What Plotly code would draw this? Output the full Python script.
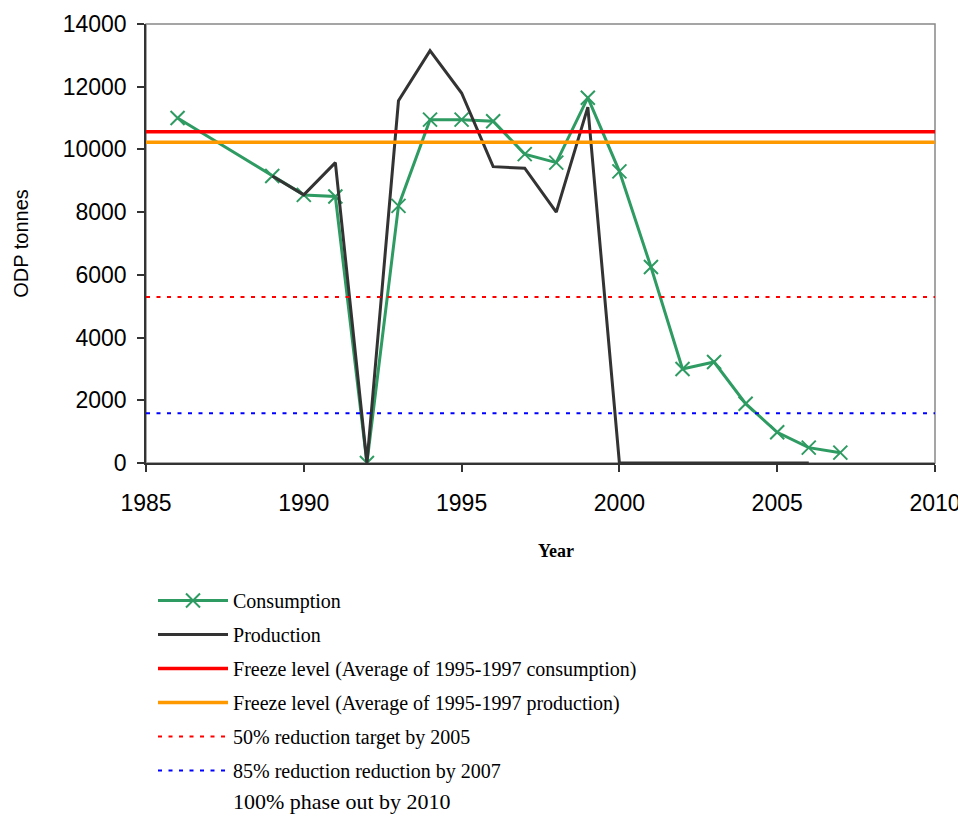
import plotly.graph_objects as go

years_cons = [1986, 1989, 1990, 1991, 1992, 1993, 1994, 1995, 1996, 1997, 1998, 1999,
              2000, 2001, 2002, 2003, 2004, 2005, 2006, 2007]
consumption = [11000, 9150, 8550, 8500, 0, 8200, 10950, 10950, 10900, 9850, 9580, 11650,
               9300, 6250, 3000, 3220, 1890, 980, 490, 330]

years_prod = [1989, 1990, 1991, 1992, 1993, 1994, 1995, 1996, 1997, 1998, 1999,
              2000, 2001, 2002, 2003, 2004, 2005, 2006]
production = [9150, 8550, 9580, 0, 11550, 13150, 11800, 9450, 9400, 8000, 11350,
              0, 0, 0, 0, 0, 0, 0]

line_span = [1985, 2010]
freeze_cons = 10560
freeze_prod = 10230
target_50 = 5290
target_85 = 1590

names = ["Consumption", "Production",
         "Freeze level (Average of 1995-1997 consumption)",
         "Freeze level (Average of 1995-1997 production)",
         "50% reduction target by 2005",
         "85% reduction reduction by 2007"]
note_text = "100% phase out by 2010"

GREEN = "#2E9B62"
DASH = "4px,6.5px"
fig = go.Figure()
fig.add_trace(go.Scatter(x=years_cons, y=consumption, name=names[0], legendgroup="a",
                         mode="lines+markers",
                         line=dict(color=GREEN, width=3),
                         marker=dict(symbol="x-thin", size=14,
                                     line=dict(color=GREEN, width=2))))
fig.add_trace(go.Scatter(x=years_prod, y=production, name=names[1], legendgroup="b",
                         mode="lines", line=dict(color="#333333", width=3)))
fig.add_trace(go.Scatter(x=line_span, y=[freeze_cons] * 2, name=names[2], legendgroup="c",
                         mode="lines", line=dict(color="#FF0000", width=3.5)))
fig.add_trace(go.Scatter(x=line_span, y=[freeze_prod] * 2, name=names[3], legendgroup="d",
                         mode="lines", line=dict(color="#FF9900", width=3.5)))
fig.add_trace(go.Scatter(x=line_span, y=[target_50] * 2, name=names[4], legendgroup="e",
                         mode="lines", line=dict(color="#FF0000", width=2, dash=DASH)))
fig.add_trace(go.Scatter(x=line_span, y=[target_85] * 2, name=names[5], legendgroup="f",
                         mode="lines", line=dict(color="#0000FF", width=2, dash=DASH)))

# page body has an 8px margin, so figure origin is at (8, 8) on screen
PH = 439  # plot height in px (screen y 24..463)


def py(pix):
    return (463 - pix) / PH


fig.update_layout(
    width=958, height=806,
    margin=dict(l=138, r=31, t=16, b=351, autoexpand=False),
    paper_bgcolor="white", plot_bgcolor="white",
    showlegend=True,
    legend=dict(x=7 / 788, y=py(581), xanchor="left", yanchor="top",
                orientation="v", itemwidth=70, tracegroupgap=5,
                font=dict(family="Liberation Serif", size=20, color="black"),
                bgcolor="rgba(0,0,0,0)", itemclick=False),
    font=dict(family="Liberation Sans", color="black"),
    shapes=[dict(type="rect", xref="paper", yref="paper", x0=0, x1=1, y0=0, y1=1,
                 line=dict(color="#888888", width=1.5), layer="below")],
    annotations=[
        dict(text="<b>Year</b>", xref="paper", yref="paper", x=(555 - 146) / 788, y=py(551),
             xanchor="center", yanchor="middle", showarrow=False,
             font=dict(family="Liberation Serif", size=18, color="black")),
        dict(text=note_text, xref="paper", yref="paper", x=(231 - 146) / 788,
             y=py(801), xanchor="left", yanchor="middle", showarrow=False,
             font=dict(family="Liberation Serif", size=22, color="black")),
    ],
)
fig.update_xaxes(range=[1985, 2010], dtick=5, tick0=1985, showgrid=False, zeroline=False,
                 showline=True, linecolor="#333333", linewidth=1.5,
                 ticks="outside", ticklen=7, tickcolor="#333333", tickwidth=1.5,
                 ticklabelstandoff=12, automargin=False,
                 tickfont=dict(family="Liberation Sans", size=23, color="black"))
fig.update_yaxes(range=[0, 14000], dtick=2000, tickformat="d", showgrid=False, zeroline=False,
                 showline=True, linecolor="#333333", linewidth=1.5,
                 ticks="outside", ticklen=7, tickcolor="#333333", tickwidth=1.5,
                 ticklabelstandoff=6, automargin=False,
                 tickfont=dict(family="Liberation Sans", size=23, color="black"),
                 title=dict(text="ODP tonnes", standoff=29,
                            font=dict(family="Liberation Sans", size=20, color="black")))

fig.write_html("out.html")
